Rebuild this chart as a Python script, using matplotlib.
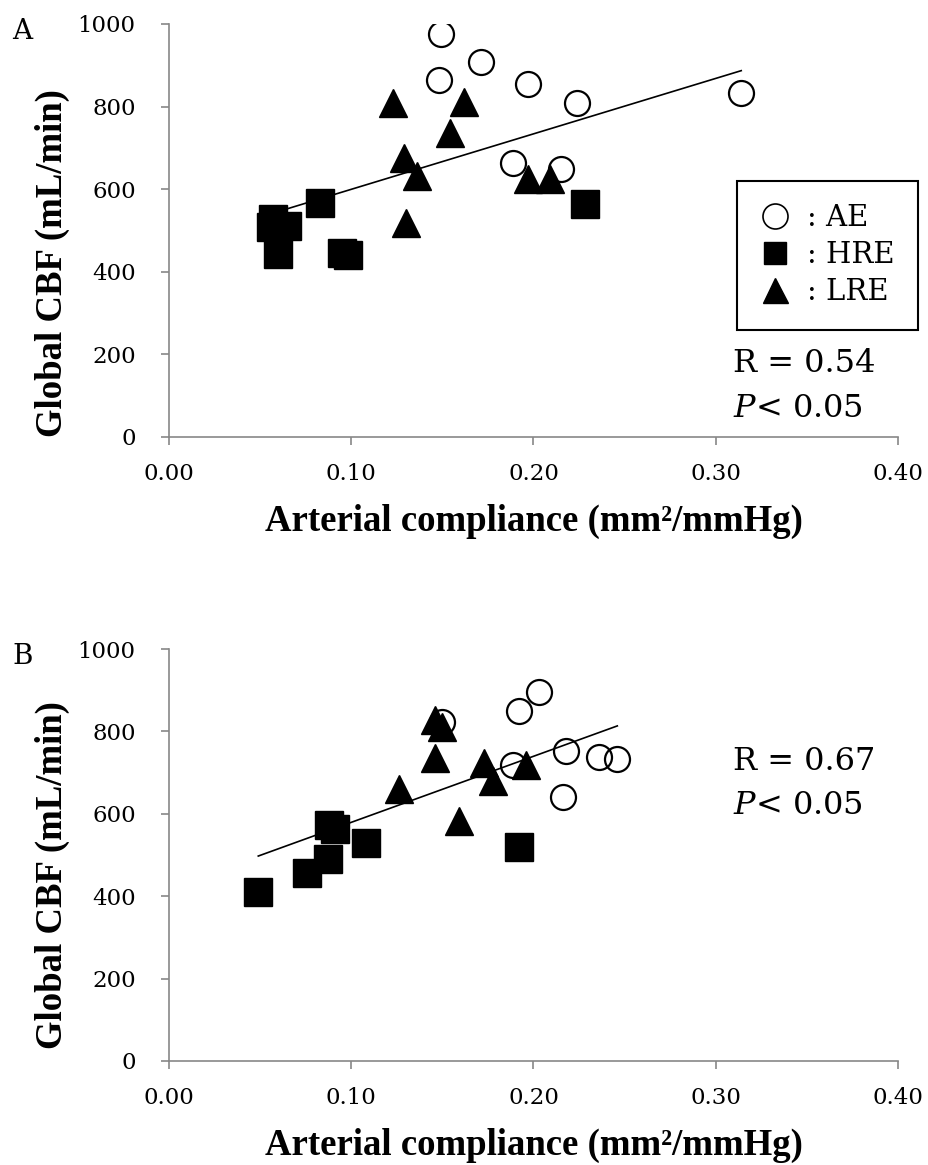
import matplotlib
matplotlib.use("Agg")
import matplotlib.pyplot as plt
from matplotlib.lines import Line2D
import numpy as np

# Panel A: arterial compliance vs global CBF
ae_x_a = [0.149, 0.171, 0.148, 0.197, 0.224, 0.189, 0.215, 0.314]
ae_y_a = [975, 907, 864, 855, 809, 663, 648, 834]
hre_x_a = [0.057, 0.065, 0.056, 0.060, 0.095, 0.098, 0.083, 0.228]
hre_y_a = [528, 510, 508, 442, 445, 440, 566, 564]
lre_x_a = [0.123, 0.162, 0.154, 0.129, 0.136, 0.130, 0.197, 0.209]
lre_y_a = [809, 811, 736, 675, 633, 517, 625, 625]

# Panel B
ae_x_b = [0.203, 0.192, 0.150, 0.189, 0.218, 0.236, 0.246, 0.216]
ae_y_b = [896, 850, 824, 718, 752, 739, 733, 640]
hre_x_b = [0.049, 0.076, 0.087, 0.088, 0.091, 0.108, 0.192]
hre_y_b = [411, 457, 490, 573, 562, 528, 520]
lre_x_b = [0.146, 0.150, 0.146, 0.126, 0.173, 0.178, 0.196, 0.159]
lre_y_b = [827, 811, 736, 660, 723, 680, 718, 583]

x_ticks = [0.0, 0.1, 0.2, 0.3, 0.4]
y_ticks = [0, 200, 400, 600, 800, 1000]
stats_a = ["R = 0.54", "$P$< 0.05"]
stats_b = ["R = 0.67", "$P$< 0.05"]

plt.rcParams['mathtext.fontset'] = 'dejavuserif'

grey = '#878787'
ms = 19


def panel(ax, ae, hre, lre, stats, stats_y, letter, ylab_y):
    xs = np.array(ae[0] + hre[0] + lre[0])
    ys = np.array(ae[1] + hre[1] + lre[1])
    m, b = np.polyfit(xs, ys, 1)
    xl = np.array([xs.min(), xs.max()])
    ax.plot(xl, m * xl + b, color='black', lw=1.2, zorder=2)

    ax.plot(ae[0], ae[1], 'o', ms=ms - 1, mfc='none', mec='black', mew=1.6, zorder=3)
    ax.plot(hre[0], hre[1], 's', ms=ms + 1, color='black', zorder=4)
    ax.plot(lre[0], lre[1], '^', ms=ms + 1, color='black', zorder=5)

    ax.set_xlim(0, 0.4)
    ax.set_ylim(0, 1000)
    ax.set_xticks(x_ticks)
    ax.set_yticks(y_ticks)
    ax.set_xticklabels([f"{t:.2f}" for t in x_ticks], family='DejaVu Serif', fontsize=16.5)
    ax.set_yticklabels([str(t) for t in y_ticks], family='DejaVu Serif', fontsize=16.5)
    for s in ['top', 'right']:
        ax.spines[s].set_visible(False)
    for s in ['left', 'bottom']:
        ax.spines[s].set_color(grey)
        ax.spines[s].set_linewidth(1.2)
    ax.tick_params(axis='both', direction='out', length=6, width=1.2, color=grey)
    ax.tick_params(axis='y', pad=18)
    ax.tick_params(axis='x', pad=13)
    ax.set_xlabel("Arterial compliance (mm²/mmHg)", family='Liberation Serif',
                  fontweight='bold', fontsize=26.5)
    ax.set_ylabel("Global CBF (mL/min)", family='Liberation Serif',
                  fontweight='bold', fontsize=26.5)
    ax.xaxis.set_label_coords(0.5, -0.162)
    ax.yaxis.set_label_coords(-0.136, ylab_y)

    ax.text(0.774, stats_y[0], stats[0], transform=ax.transAxes, family='DejaVu Serif',
            fontsize=23, va='center', ha='left')
    ax.text(0.774, stats_y[1], stats[1], transform=ax.transAxes, family='DejaVu Serif',
            fontsize=23, va='center', ha='left')
    ax.text(-0.215, 0.983, letter, transform=ax.transAxes, family='DejaVu Serif',
            fontsize=20, va='center', ha='left')


fig = plt.figure(figsize=(9.29, 11.65), dpi=100)
ax1 = fig.add_axes([0.1819, 0.6249, 0.7847, 0.3545])
ax2 = fig.add_axes([0.1819, 0.0893, 0.7847, 0.3536])

panel(ax1, (ae_x_a, ae_y_a), (hre_x_a, hre_y_a), (lre_x_a, lre_y_a),
      stats_a, (0.179, 0.070), "A", 0.421)
panel(ax2, (ae_x_b, ae_y_b), (hre_x_b, hre_y_b), (lre_x_b, lre_y_b),
      stats_b, (0.726, 0.619), "B", 0.451)

handles = [Line2D([], [], marker='o', ls='none', ms=18, mfc='none', mec='black', mew=1.2),
           Line2D([], [], marker='s', ls='none', ms=16, color='black'),
           Line2D([], [], marker='^', ls='none', ms=18, color='black')]
leg = ax1.legend(handles, [": AE", ": HRE", ": LRE"], loc='upper left',
                 bbox_to_anchor=(0.779, 0.62), borderaxespad=0, fancybox=False,
                 edgecolor='black', framealpha=1, borderpad=0.8, handlelength=1.0,
                 handletextpad=0.6, labelspacing=0.31,
                 prop={'family': 'DejaVu Serif', 'size': 21})
leg.get_frame().set_linewidth(1.5)

fig.savefig("out.png", dpi=100)
